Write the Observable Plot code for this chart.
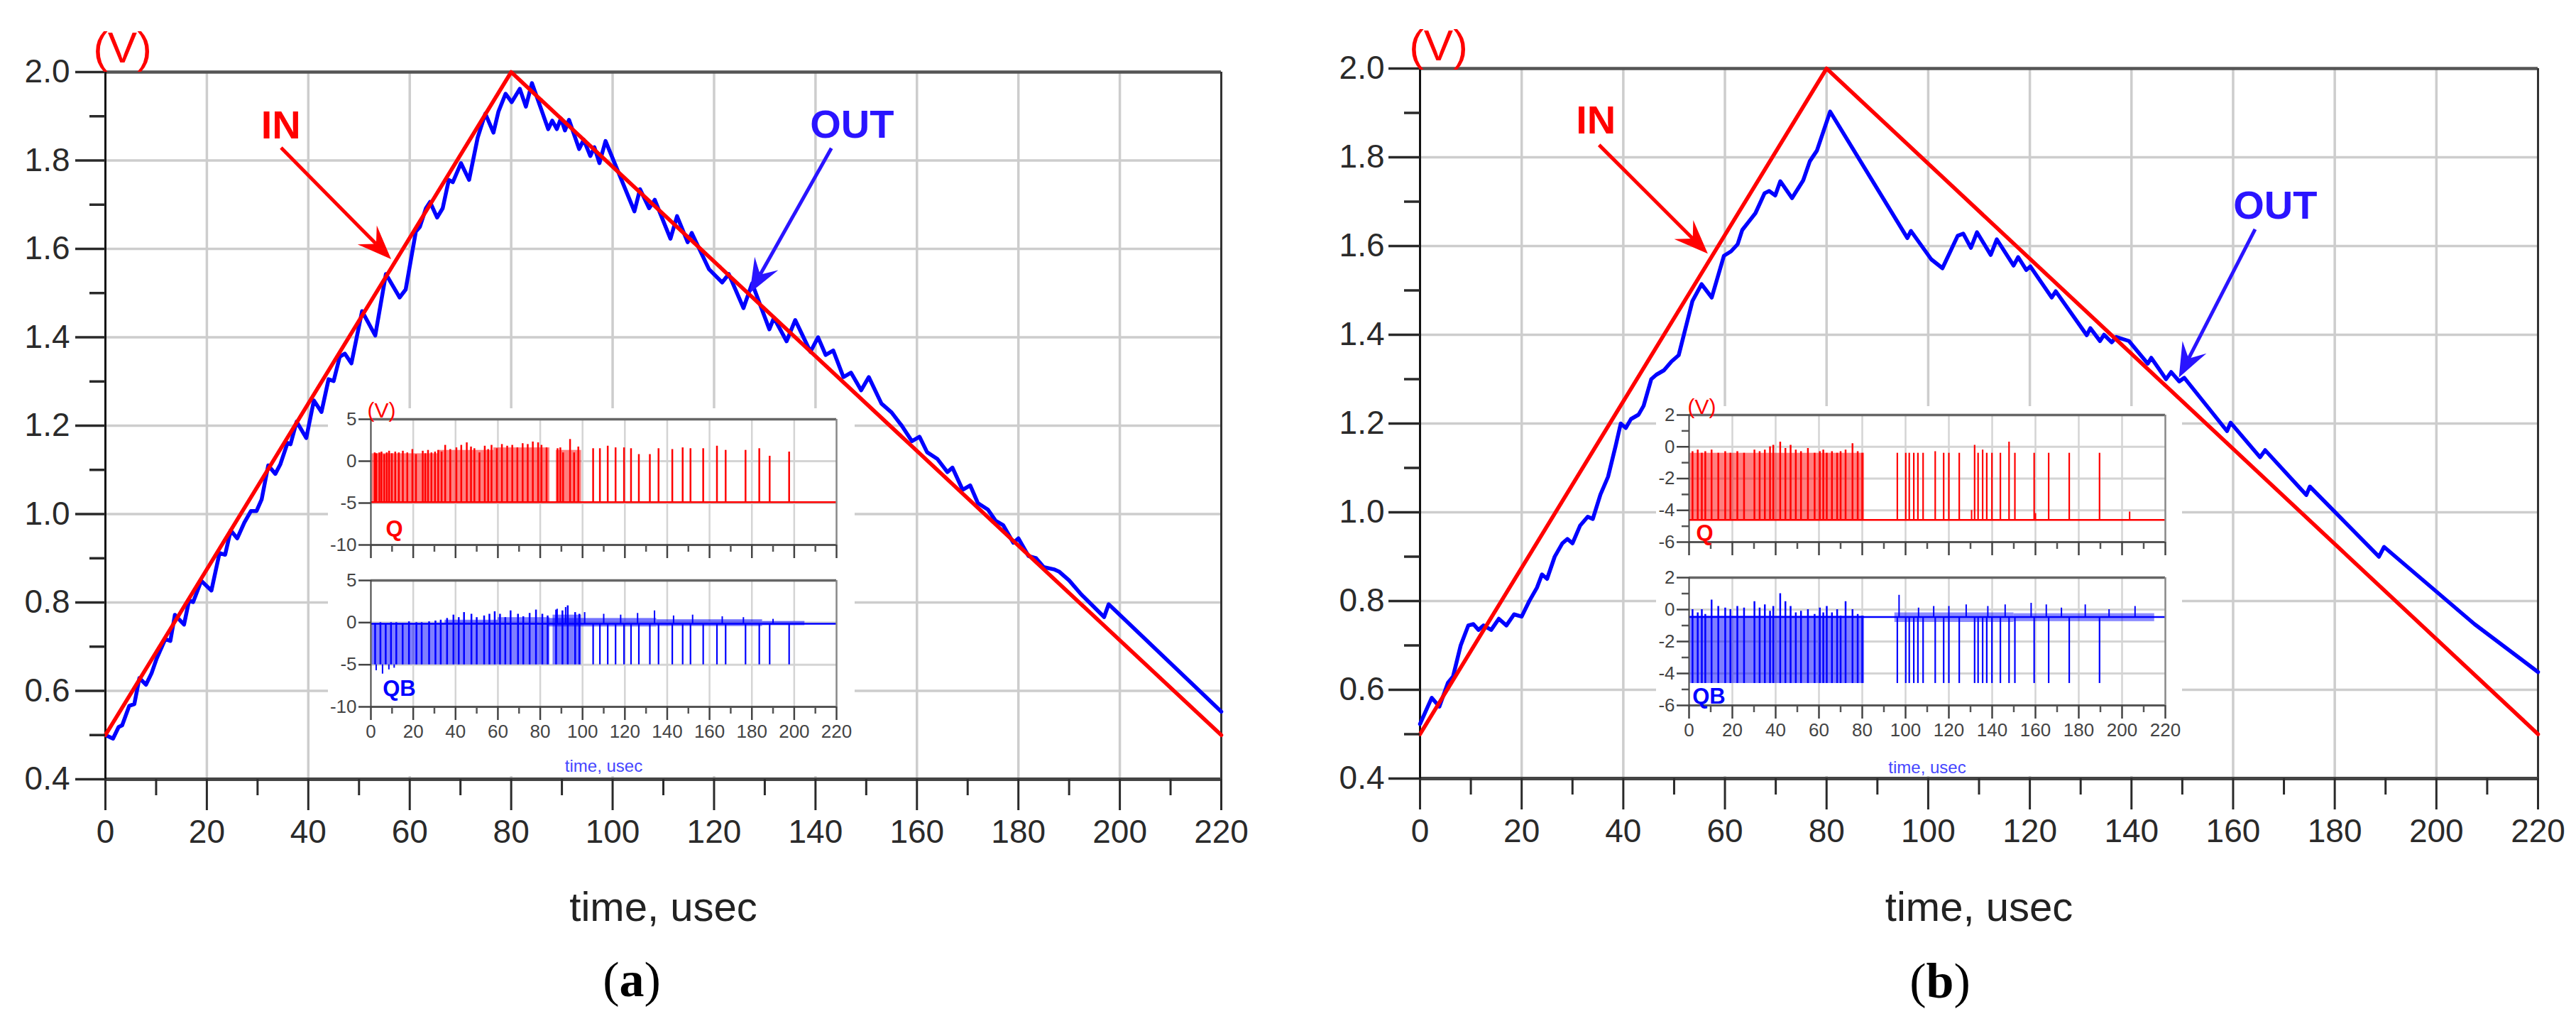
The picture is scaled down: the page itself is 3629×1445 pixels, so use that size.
<!DOCTYPE html>
<html><head><meta charset="utf-8">
<script src="https://cdn.jsdelivr.net/npm/d3@7"></script>
<script src="https://cdn.jsdelivr.net/npm/@observablehq/plot@0.6"></script>
<style>
html,body{margin:0;padding:0;background:#fff;}
body{width:3629px;height:1445px;overflow:hidden;position:relative;font-family:"Liberation Sans",Arial,sans-serif;}
.abs{position:absolute;}
.inset{position:absolute;background:#fff;}
.cap{position:absolute;font-family:"Liberation Serif","Times New Roman",serif;font-size:70px;line-height:70px;color:#000;transform:translate(-50%,-50%);white-space:nowrap;}
svg{display:block;}
</style></head><body>
<div id="mainA" class="abs" style="left:0;top:0"></div>
<div id="mainB" class="abs" style="left:1814px;top:0"></div>
<div id="insetA" class="inset" style="left:462px;top:575px;width:742px;height:518px"></div>
<div id="insetB" class="inset" style="left:2333px;top:572px;width:741px;height:521px"></div>
<div class="cap" style="left:890px;top:1380px">(<b>a</b>)</div>
<div class="cap" style="left:2733px;top:1382px">(<b>b</b>)</div>
<script>
// ---------- axes / ticks ----------
const xMajor = [0,20,40,60,80,100,120,140,160,180,200,220];
const xMinor = [10,30,50,70,90,110,130,150,170,190,210];
const vMajor = [0.4,0.6,0.8,1.0,1.2,1.4,1.6,1.8,2.0];
const vMinor = [0.5,0.7,0.9,1.1,1.3,1.5,1.7,1.9];
const insetYMajorA = [5,0,-5,-10];
const insetYMajorB = [2,0,-2,-4,-6];
const insetYMinorB = [1,-1,-3,-5];

// ---------- main series ----------
const inTime = [0,80,220];
const inVolt = [0.5,2.0,0.5];

const outA = [[0,0.50],[1.5,0.492],[2.6,0.518],[3.3,0.522],[4.7,0.566],[5.7,0.570],[6.7,0.629],[8.0,0.614],[9.1,0.640],[10.1,0.673],[11.8,0.717],[12.8,0.713],[13.7,0.772],[15.5,0.750],[16.5,0.805],[17.3,0.801],[18.9,0.849],[20.9,0.827],[22.5,0.912],[23.6,0.908],[24.7,0.963],[26.0,0.945],[27.4,0.981],[28.7,1.007],[29.8,1.007],[30.8,1.033],[32.1,1.110],[33.5,1.091],[34.5,1.113],[35.9,1.161],[36.5,1.158],[37.7,1.209],[39.6,1.172],[41.1,1.257],[42.6,1.231],[44.0,1.305],[45.0,1.301],[46.2,1.356],[47.2,1.363],[48.5,1.341],[50.6,1.459],[53.2,1.404],[55.3,1.543],[58.0,1.490],[59.2,1.508],[61.2,1.639],[62.0,1.650],[63.2,1.692],[64.0,1.706],[65.4,1.671],[66.5,1.692],[67.7,1.756],[68.5,1.751],[70.1,1.794],[71.7,1.756],[73.4,1.852],[74.9,1.906],[76.5,1.863],[77.5,1.911],[78.9,1.951],[80.1,1.932],[81.7,1.962],[82.9,1.922],[84.1,1.975],[87.3,1.871],[88.1,1.890],[89.0,1.871],[89.8,1.895],[90.6,1.868],[91.4,1.892],[93.4,1.826],[94.3,1.847],[95.6,1.810],[96.4,1.830],[97.4,1.794],[98.6,1.844],[104.3,1.685],[105.4,1.735],[107.2,1.692],[108.3,1.711],[111.4,1.623],[112.7,1.674],[114.8,1.615],[115.6,1.636],[119.0,1.554],[121.6,1.524],[122.9,1.543],[125.8,1.466],[127.5,1.522],[130.9,1.418],[131.8,1.444],[134.3,1.391],[136.0,1.439],[139.0,1.367],[140.5,1.40],[142.0,1.36],[143.5,1.37],[145.5,1.31],[147.0,1.32],[149.0,1.28],[150.5,1.31],[153.0,1.25],[155.0,1.23],[157.0,1.20],[159.0,1.165],[160.5,1.175],[162.0,1.14],[164.0,1.125],[166.0,1.095],[167.0,1.105],[169.0,1.055],[170.5,1.065],[172.0,1.025],[174.0,1.01],[175.5,0.985],[177.0,0.975],[179.0,0.935],[180.0,0.945],[182.0,0.905],[183.5,0.90],[185.0,0.88],[187.0,0.875],[188.0,0.87],[190.0,0.85],[192.4,0.818],[196.9,0.767],[197.8,0.796],[220,0.553]];

const outB = [[0,0.523],[2.3,0.582],[3.8,0.562],[5.5,0.616],[6.5,0.63],[8.0,0.70],[9.5,0.745],[10.5,0.748],[11.5,0.735],[12.5,0.745],[14.0,0.735],[15.5,0.76],[17.0,0.745],[18.5,0.77],[20.0,0.765],[21.5,0.80],[23.0,0.83],[24.0,0.86],[25.0,0.85],[26.5,0.90],[28.0,0.93],[29.0,0.94],[30.0,0.93],[31.5,0.97],[33.0,0.99],[34.0,0.985],[35.5,1.04],[37.0,1.08],[38.5,1.15],[39.5,1.20],[40.5,1.19],[41.5,1.21],[43.0,1.22],[44.0,1.24],[45.5,1.30],[46.5,1.31],[48.0,1.32],[49.5,1.34],[50.9,1.354],[53.6,1.476],[55.4,1.514],[57.4,1.484],[59.8,1.578],[61.2,1.588],[62.5,1.604],[63.4,1.636],[64.7,1.655],[66.0,1.674],[67.8,1.719],[68.7,1.724],[69.9,1.714],[70.9,1.746],[73.2,1.708],[75.4,1.748],[76.7,1.791],[78.1,1.815],[80.7,1.903],[95.9,1.618],[96.6,1.634],[100.6,1.570],[102.8,1.550],[105.8,1.623],[106.9,1.628],[108.4,1.596],[109.6,1.631],[112.3,1.580],[113.5,1.615],[116.8,1.556],[117.7,1.575],[119.3,1.546],[120.1,1.554],[124.3,1.484],[125.1,1.498],[131.2,1.399],[131.9,1.415],[133.8,1.386],[134.6,1.400],[136.1,1.383],[137.0,1.395],[139.5,1.386],[143.2,1.335],[143.9,1.348],[146.8,1.300],[147.8,1.316],[149.4,1.295],[150.4,1.303],[158.8,1.183],[159.5,1.202],[165.3,1.124],[166.3,1.140],[174.4,1.039],[175.1,1.058],[188.7,0.900],[189.7,0.922],[207.5,0.748],[220,0.640]];

// ---------- annotations (data coordinates) ----------
const annA = {
  inLabel: {t:34.6, v:1.849}, outLabel: {t:147.2, v:1.852},
  inArrow: {x1:34.7, y1:1.828, x2:56.4, y2:1.576},
  outArrow: {x1:143.2, y1:1.827, x2:127.1, y2:1.499}
};
const annB = {
  inLabel: {t:34.6, v:1.853}, outLabel: {t:168.3, v:1.662},
  inArrow: {x1:35.3, y1:1.827, x2:56.7, y2:1.582},
  outArrow: {x1:164.4, y1:1.637, x2:149.4, y2:1.303}
};

// ---------- inset (a) ----------
const qA_low = -4.9;
const qA_bursts = [[0.5,32,0.9],[32,58,1.3],[58,84.5,1.6],[87.5,99.5,1.3]];
const qA_spikes = [[1.8,1.0],[2.6,0.9],[4.0,1.0],[5.0,1.1],[6.3,0.8],[7.5,1.0],[8.6,1.2],[9.9,0.9],[11.5,1.1],[13.2,1.0],[15.1,1.2],[17.2,1.0],[19.6,1.4],[21.3,0.8],[24.5,1.2],[25.7,0.9],[27.0,1.3],[28.6,1.0],[30.3,1.1],[31.8,1.3],[33.4,1.1],[35.1,1.9],[37.5,1.4],[40.4,1.6],[42.7,1.9],[45.3,2.2],[47.3,1.7],[48.9,1.5],[51.3,1.0],[53.8,1.8],[55.4,1.4],[57.0,1.9],[59.5,1.5],[61.9,2.0],[64.4,1.8],[66.8,1.9],[69.2,1.6],[71.7,2.1],[74.1,2.0],[76.5,2.3],[79.0,2.2],[80.6,1.9],[83.0,1.6],[88.2,1.5],[89.5,1.6],[90.8,1.0],[94.1,2.6],[96.0,1.0],[98.0,1.7],[105.0,1.5],[108.2,1.5],[111.9,1.8],[115.6,1.6],[119.6,1.6],[122.9,1.5],[126.6,0.8],[131.8,0.8],[135.9,1.5],[142.4,1.4],[147.3,1.6],[151.0,1.5],[157.0,1.5],[163.5,1.8],[167.6,1.3],[177.0,1.3],[183.5,1.5],[188.4,0.6],[197.6,1.1]];
const qbA_high = -0.15;
const qbA_low = -5.0;
const qbA_bursts = [[0.5,35,-0.1],[35,60,0.3],[60,84.5,0.6],[86,99.5,0.9]];
const qbA_up = [[2.0,-0.1],[4.5,0],[7.0,-0.2],[9.5,0],[12.0,0],[15.0,-0.1],[18.0,0.1],[21.5,0],[24.0,0],[27.5,0.1],[30.5,0.2],[33.0,0.3],[36.0,0.5],[39.0,0.9],[41.5,0.6],[44.0,1.2],[47.5,1.0],[50.0,0.6],[53.5,0.8],[56.0,1.0],[58.5,1.3],[61.0,1.0],[63.5,0.6],[66.0,1.4],[69.5,1.0],[72.0,0.7],[75.0,1.1],[78.0,1.5],[81.0,1.0],[83.5,0.8],[87.5,1.5],[90.5,1.4],[93.0,2.0],[96.5,1.2],[98.5,1.0]];
const qbA_deep = [[2.5,-5.7],[5.5,-6.1],[8.5,-5.6],[11.0,-5.4]];
const qbA_down = [105.0,108.2,111.9,115.6,119.6,122.9,126.6,131.8,135.9,142.4,147.3,151.0,157.0,163.5,167.6,177.0,183.5,188.4,197.6];
const qbA_hair = [[84,135,-0.5,0.5],[135,185,-0.45,0.35],[185,205,-0.35,0.15]];
const qbA_hairTips = [[88,1.6],[92,1.8],[101,1.2],[110,1.0],[118,0.9],[126,1.1],[134,1.4],[143,0.8],[152,0.9],[166,0.7],[176,0.6],[190,0.4]];

// ---------- inset (b) ----------
const qB_low = -4.6;
const qB_bursts = [[0.5,81,-0.4]];
const qB_dense = [[1.6,-0.3],[4.0,-0.2],[5.9,-0.4],[7.5,-0.3],[10.4,-0.2],[13.5,-0.4],[16.7,-0.3],[19.1,-0.4],[22.3,-0.3],[25.4,-0.4],[30.2,-0.2],[32.6,-0.3],[35.0,-0.2],[37.4,0.0],[38.9,0.1],[42.1,0.3],[44.5,-0.1],[46.9,0.1],[49.3,-0.2],[51.7,-0.3],[54.9,-0.1],[58.0,-0.4],[60.4,-0.3],[62.0,-0.2],[63.6,-0.4],[66.0,-0.3],[68.4,-0.4],[70.0,-0.3],[72.3,-0.2],[75.5,0.2],[77.9,-0.3],[80.0,-0.4]];
const qB_spikes = [[96.2,-0.4],[100.1,-0.4],[101.7,-0.4],[103.8,-0.4],[105.7,-0.4],[108.1,-0.4],[113.7,-0.3],[117.6,-0.4],[120.0,-0.4],[124.8,-0.4],[131.9,0.1],[133.5,-0.4],[135.6,-0.2],[137.5,-0.4],[139.9,-0.4],[143.8,-0.4],[147.8,0.3],[150.5,-0.4],[159.4,-0.4],[166.1,-0.4],[175.6,-0.4],[189.6,-0.4]];
const qB_bumps = [[130.5,-4.0],[160.0,-4.2],[203.5,-4.1]];
const qbB_high = -0.47;
const qbB_low = -4.62;
const qbB_bursts = [[0.5,81,-0.4]];
const qbB_dense = [[1.6,0.0],[4.0,-0.2],[5.9,0.0],[7.5,-0.3],[10.4,0.6],[13.5,0.2],[16.7,0.1],[19.1,0.0],[22.3,0.2],[25.4,0.1],[30.2,0.5],[32.6,0.1],[35.0,0.3],[37.4,-0.1],[38.9,0.2],[42.1,1.0],[44.5,0.5],[46.9,0.2],[49.3,-0.2],[51.7,-0.1],[54.9,0.0],[58.0,-0.3],[60.4,0.1],[62.0,-0.2],[63.6,0.2],[66.0,-0.2],[68.4,0.0],[70.0,-0.4],[72.3,0.5],[75.5,0.0],[77.9,-0.3],[80.0,-0.4]];
const qbB_hair = [[95,150,-0.8,-0.2],[150,215,-0.75,-0.25]];
const qbB_hairTips = [[97,0.9],[106,0.1],[113,0.2],[120,0.2],[128,0.3],[138,0.2],[146,0.3],[158,0.4],[165,0.3],[172,0.1],[183,0.3],[194,0.0],[206,0.2]];

// ---------- colours & fonts ----------
const RED = "#ff0000", BLUE = "#0000ff", ARROWBLUE = "#2a14ff";
const FONT = "'Liberation Sans', Arial, Helvetica, sans-serif";
const NS = "http://www.w3.org/2000/svg";

function arrowMark(a, color) {
  return (index, scales) => {
    const sx = scales.x, sy = scales.y;
    const x1 = sx(a.x1), y1 = sy(a.y1), x2 = sx(a.x2), y2 = sy(a.y2);
    const dx = x2 - x1, dy = y2 - y1, len = Math.hypot(dx, dy);
    const ux = dx / len, uy = dy / len, nx = -uy, ny = ux;
    const L = 48, Wd = 19, N = 30;
    const g = document.createElementNS(NS, "g");
    const ln = document.createElementNS(NS, "line");
    ln.setAttribute("x1", x1); ln.setAttribute("y1", y1);
    ln.setAttribute("x2", x2 - N * ux); ln.setAttribute("y2", y2 - N * uy);
    ln.setAttribute("stroke", color); ln.setAttribute("stroke-width", 5);
    g.appendChild(ln);
    const p = document.createElementNS(NS, "path");
    const b1 = [x2 - L * ux + Wd * nx, y2 - L * uy + Wd * ny];
    const b2 = [x2 - L * ux - Wd * nx, y2 - L * uy - Wd * ny];
    const nt = [x2 - N * ux, y2 - N * uy];
    p.setAttribute("d", `M${x2},${y2}L${b1[0]},${b1[1]}L${nt[0]},${nt[1]}L${b2[0]},${b2[1]}Z`);
    p.setAttribute("fill", color);
    g.appendChild(p);
    return g;
  };
}

// burst bands: [x1, x2, top] from "low" (or [x1, x2, y1, y2] when low is null), drawn with the plot's scales
function bandMark(rows, low, color, opacity) {
  return (index, scales) => {
    const sx = scales.x, sy = scales.y;
    const g = document.createElementNS(NS, "g");
    for (const r of rows) {
      const ya = low == null ? r[2] : low, yb = low == null ? r[3] : r[2];
      const X1 = sx(r[0]), X2 = sx(r[1]), Y1 = sy(ya), Y2 = sy(yb);
      const el = document.createElementNS(NS, "rect");
      el.setAttribute("x", Math.min(X1, X2)); el.setAttribute("width", Math.abs(X2 - X1));
      el.setAttribute("y", Math.min(Y1, Y2)); el.setAttribute("height", Math.abs(Y2 - Y1));
      el.setAttribute("fill", color); el.setAttribute("fill-opacity", opacity);
      g.appendChild(el);
    }
    return g;
  };
}

function mainChart(cfg) {
  const inData = inTime.map((t, i) => ({t, v: inVolt[i]}));
  const outData = cfg.out.map(([t, v]) => ({t, v}));
  const ann = cfg.ann;
  return Plot.plot({
    width: cfg.width, height: cfg.height,
    marginTop: cfg.mt, marginBottom: cfg.mb, marginLeft: cfg.ml, marginRight: cfg.mr,
    x: {domain: [0, 220], label: null},
    y: {domain: [0.4, 2.0], label: null},
    style: {fontFamily: FONT, background: "transparent", overflow: "visible"},
    marks: [
      Plot.gridX(xMajor.slice(1, -1), {stroke: "#cdcdcd", strokeWidth: 3.5, strokeOpacity: 1}),
      Plot.gridY(vMajor.slice(1, -1), {stroke: "#cdcdcd", strokeWidth: 3.5, strokeOpacity: 1}),
      Plot.ruleY([2.0], {stroke: "#555", strokeWidth: 4.5}),
      Plot.ruleX([220], {stroke: "#333", strokeWidth: 3}),
      Plot.ruleY([0.4], {stroke: "#444", strokeWidth: 5}),
      Plot.ruleX([0], {stroke: "#111", strokeWidth: 3}),
      Plot.line(outData, {x: "t", y: "v", stroke: BLUE, strokeWidth: 5.5}),
      Plot.line(inData, {x: "t", y: "v", stroke: RED, strokeWidth: 5.5}),
      Plot.axisX(xMajor, {tickSize: 44, tickPadding: 13, fontSize: 46, strokeWidth: 3, color: "#2a2a2a", label: null}),
      Plot.axisX(xMinor, {tickSize: 23, tickFormat: () => "", strokeWidth: 3, color: "#2a2a2a", label: null}),
      Plot.axisY(vMajor, {tickSize: cfg.ytick, tickPadding: cfg.ypad, fontSize: 46, strokeWidth: 3.5, color: "#2a2a2a", tickFormat: d3.format(".1f"), label: null}),
      Plot.axisY(vMinor, {tickSize: 22, tickFormat: () => "", strokeWidth: 3.5, color: "#2a2a2a", label: null}),
      Plot.text(["(V)"], {frameAnchor: "top-left", textAnchor: "middle", lineAnchor: "bottom", dx: cfg.vdx, dy: cfg.vdy, fill: RED, fontSize: 62}),
      Plot.text(["time, usec"], {frameAnchor: "bottom", textAnchor: "middle", lineAnchor: "bottom", dy: cfg.tdy, fill: "#222", fontSize: 58}),
      arrowMark(ann.inArrow, RED),
      arrowMark(ann.outArrow, ARROWBLUE),
      Plot.text([ann.inLabel], {x: "t", y: "v", text: () => "IN", textAnchor: "middle", lineAnchor: "bottom", fill: RED, fontSize: 56, fontWeight: "bold"}),
      Plot.text([ann.outLabel], {x: "t", y: "v", text: () => "OUT", textAnchor: "middle", lineAnchor: "bottom", fill: ARROWBLUE, fontSize: 56, fontWeight: "bold"})
    ]
  });
}

function insetPanel(cfg) {
  const marks = [
    Plot.gridX(xMajor.slice(1, -1), {stroke: "#d4d4d4", strokeWidth: 2.5, strokeOpacity: 1}),
    Plot.gridY(cfg.yGrid, {stroke: "#d4d4d4", strokeWidth: 3, strokeOpacity: 1}),
    ...cfg.extra,
    Plot.ruleY([cfg.yDomain[1]], {stroke: "#666", strokeWidth: 3.5}),
    Plot.ruleY([cfg.yDomain[0]], {stroke: "#555", strokeWidth: 3}),
    Plot.ruleX([0], {stroke: "#444", strokeWidth: 2}),
    Plot.ruleX([220], {stroke: "#888", strokeWidth: 2.5}),
    Plot.axisX(xMajor, {tickSize: 19, tickPadding: 6, fontSize: 26, strokeWidth: 2.5, color: "#444", tickFormat: cfg.xLabels ? (d => String(d)) : (() => ""), label: null}),
    Plot.axisX(xMinor, {tickSize: 10, tickFormat: () => "", strokeWidth: 2.5, color: "#555", label: null}),
    Plot.axisY(cfg.yMajor, {tickSize: 17, tickPadding: 3, fontSize: 26, strokeWidth: 2.5, color: "#444", tickFormat: d => String(d), label: null})
  ];
  if (cfg.yMinor) marks.push(Plot.axisY(cfg.yMinor, {tickSize: 10, tickFormat: () => "", strokeWidth: 2.5, color: "#555", label: null}));
  marks.push(Plot.text([cfg.label], {frameAnchor: "bottom-left", textAnchor: "middle", lineAnchor: "bottom", dx: cfg.ldx, dy: cfg.ldy, fill: cfg.color, fontSize: 31, fontWeight: 600}));
  if (cfg.vLabel) marks.push(Plot.text(["(V)"], {frameAnchor: "top-left", textAnchor: "middle", lineAnchor: "bottom", dx: cfg.vLabel[0], dy: cfg.vLabel[1], fill: RED, fontSize: 30}));
  if (cfg.timeLabel) marks.push(Plot.text(["time, usec"], {frameAnchor: "bottom", textAnchor: "middle", lineAnchor: "bottom", dy: cfg.timeLabel, fill: "#4646ff", fontSize: 24}));
  return Plot.plot({
    width: cfg.width, height: cfg.height,
    marginTop: cfg.mt, marginBottom: cfg.mb, marginLeft: cfg.ml, marginRight: cfg.mr,
    x: {domain: [0, 220], label: null},
    y: {domain: cfg.yDomain, label: null},
    style: {fontFamily: FONT, background: "transparent", overflow: "visible"},
    marks
  });
}

function pulseMarks(color, low, bursts, ups, baseY) {
  return [
    Plot.ruleY([baseY], {x1: 0, x2: 220, stroke: color, strokeWidth: 2.5}),
    bandMark(bursts, low, color, 0.5),
    Plot.ruleX(ups, {x: d => d[0], y1: () => low, y2: d => d[1], stroke: color, strokeWidth: 2.5})
  ];
}

// ---------- build ----------
document.getElementById("mainA").appendChild(mainChart({
  out: outA, ann: annA, width: 1814, height: 1340, mt: 101, mb: 1340 - 1097, ml: 148, mr: 1814 - 1720,
  ytick: 42, ypad: 8, vdx: 24, vdy: -14, tdy: 199
}));
document.getElementById("mainB").appendChild(mainChart({
  out: outB, ann: annB, width: 1815, height: 1340, mt: 96, mb: 1340 - 1096, ml: 186, mr: 54,
  ytick: 44, ypad: 6, vdx: 26, vdy: -12, tdy: 200
}));

// inset (a)
const iaTop = insetPanel({
  width: 742, height: 220, mt: 15, mb: 28, ml: 60, mr: 26,
  yDomain: [-10, 5], yGrid: [0, -5], yMajor: insetYMajorA, yMinor: null, xLabels: false,
  color: RED, label: "Q", ldx: 33, ldy: -13, vLabel: [15, -3],
  extra: pulseMarks(RED, qA_low, qA_bursts, qA_spikes, qA_low)
});
const iaBot = insetPanel({
  width: 742, height: 298, mt: 22, mb: 98, ml: 60, mr: 26,
  yDomain: [-10, 5], yGrid: [0, -5], yMajor: insetYMajorA, yMinor: null, xLabels: true,
  color: BLUE, label: "QB", ldx: 40, ldy: -16, timeLabel: 91,
  extra: [
    bandMark(qbA_hair, null, BLUE, 0.55),
    Plot.ruleX(qbA_hairTips, {x: d => d[0], y1: () => qbA_high, y2: d => d[1], stroke: BLUE, strokeWidth: 2}),
    ...pulseMarks(BLUE, qbA_low, qbA_bursts, qbA_up, qbA_high),
    Plot.ruleX(qbA_deep, {x: d => d[0], y1: () => qbA_low, y2: d => d[1], stroke: BLUE, strokeWidth: 2}),
    Plot.ruleX(qbA_down, {x: d => d, y1: () => qbA_high, y2: () => qbA_low, stroke: BLUE, strokeWidth: 2.2})
  ]
});
iaTop.style.position = "absolute"; iaTop.style.left = "0px"; iaTop.style.top = "0px";
iaBot.style.position = "absolute"; iaBot.style.left = "0px"; iaBot.style.top = "220px";
document.getElementById("insetA").append(iaTop, iaBot);

// inset (b)
const ibTop = insetPanel({
  width: 741, height: 222, mt: 12, mb: 31, ml: 46, mr: 24,
  yDomain: [-6, 2], yGrid: [0, -2, -4], yMajor: insetYMajorB, yMinor: insetYMinorB, xLabels: false,
  color: RED, label: "Q", ldx: 22, ldy: -3, vLabel: [18, -2],
  extra: [
    ...pulseMarks(RED, qB_low, qB_bursts, qB_dense, qB_low),
    Plot.ruleX(qB_spikes, {x: d => d[0], y1: () => qB_low, y2: d => d[1], stroke: RED, strokeWidth: 2.2}),
    Plot.ruleX(qB_bumps, {x: d => d[0], y1: () => qB_low, y2: d => d[1], stroke: RED, strokeWidth: 2})
  ]
});
const ibBot = insetPanel({
  width: 741, height: 299, mt: 19, mb: 100, ml: 46, mr: 24,
  yDomain: [-6, 2], yGrid: [0, -2, -4], yMajor: insetYMajorB, yMinor: insetYMinorB, xLabels: true,
  color: BLUE, label: "QB", ldx: 28, ldy: -3, timeLabel: 95,
  extra: [
    bandMark(qbB_hair, null, BLUE, 0.45),
    Plot.ruleX(qbB_hairTips, {x: d => d[0], y1: () => qbB_high, y2: d => d[1], stroke: BLUE, strokeWidth: 2}),
    ...pulseMarks(BLUE, qbB_low, qbB_bursts, qbB_dense, qbB_high),
    Plot.ruleX(qB_spikes, {x: d => d[0], y1: () => qbB_high, y2: () => qbB_low, stroke: BLUE, strokeWidth: 2.2})
  ]
});
ibTop.style.position = "absolute"; ibTop.style.left = "0px"; ibTop.style.top = "0px";
ibBot.style.position = "absolute"; ibBot.style.left = "0px"; ibBot.style.top = "222px";
document.getElementById("insetB").append(ibTop, ibBot);
</script>
</body></html>
